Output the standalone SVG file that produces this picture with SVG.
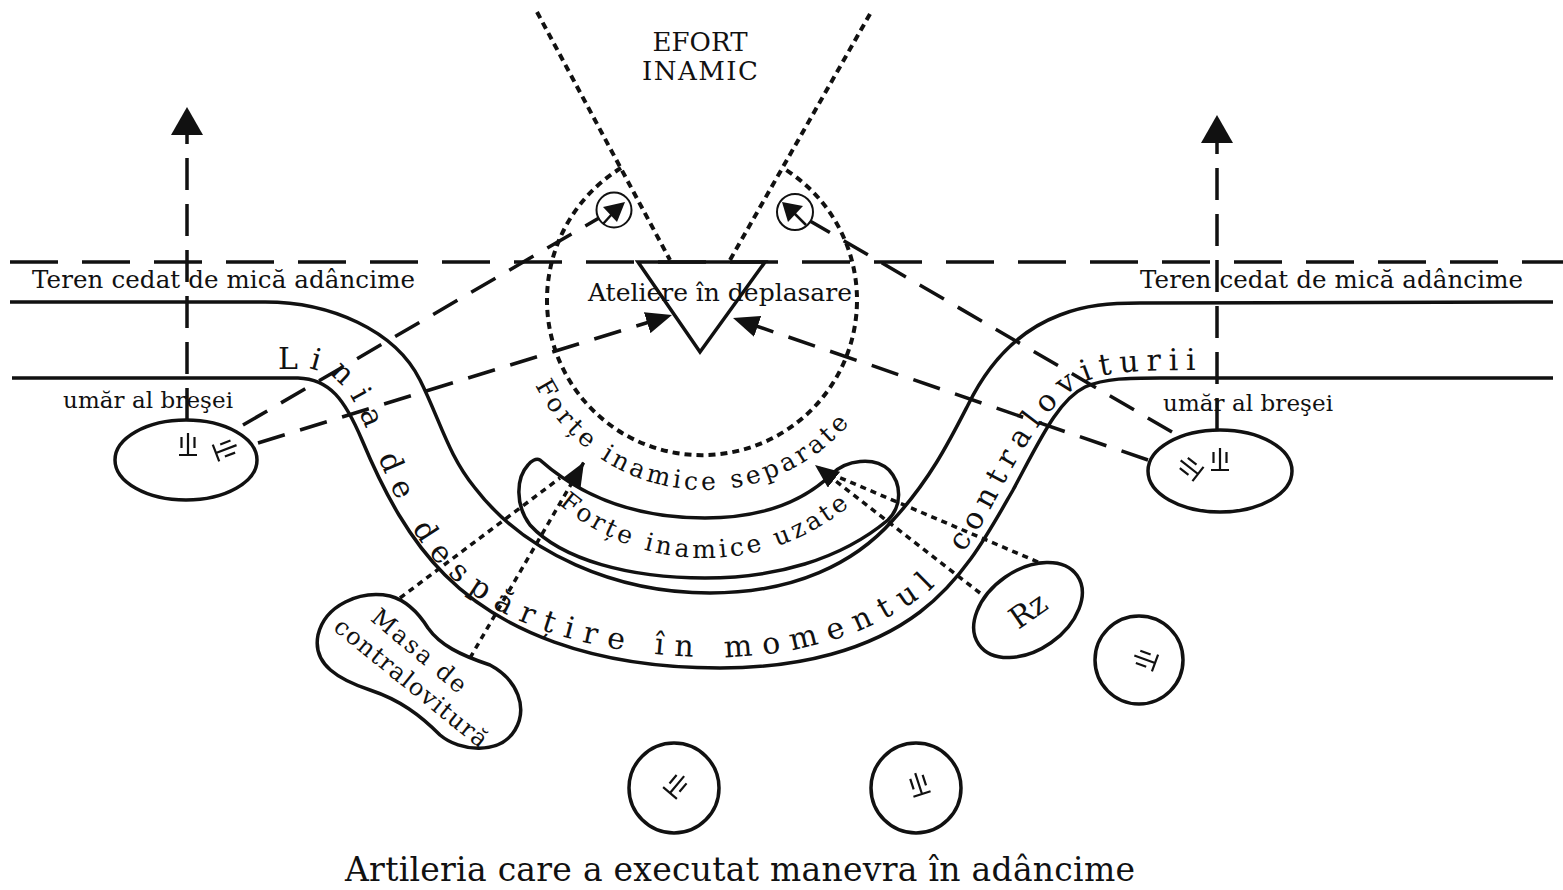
<svg xmlns="http://www.w3.org/2000/svg" xmlns:xlink="http://www.w3.org/1999/xlink" width="1563" height="890" viewBox="0 0 1563 890">
<style>
.s{fill:none;stroke:#111;stroke-width:3.5;stroke-linecap:butt}
.hd{stroke-dasharray:48 24}
.vd{stroke-dasharray:32 14}
.ld{stroke-dasharray:28 16}
.dt{stroke-dasharray:7 5;stroke-width:4}
.sd{stroke-dasharray:6 5;stroke-width:3.5}
.t{font-family:"DejaVu Serif","Liberation Serif",serif;fill:#111}
.sym{fill:none;stroke:#111;stroke-width:2.2}
</style>
<defs>
<marker id="ah" viewBox="0 0 26 22" refX="26" refY="11" markerUnits="userSpaceOnUse" markerWidth="26" markerHeight="22" orient="auto"><path d="M0,0 L26,11 L0,22 z" fill="#111"/></marker>
<marker id="av" viewBox="0 0 28 32" refX="28" refY="16" markerUnits="userSpaceOnUse" markerWidth="28" markerHeight="32" orient="auto"><path d="M0,0 L28,16 L0,32 z" fill="#111"/></marker>
<marker id="as" viewBox="0 0 24 20" refX="24" refY="10" markerUnits="userSpaceOnUse" markerWidth="24" markerHeight="20" orient="auto"><path d="M0,0 L24,10 L0,20 z" fill="#111"/></marker>
<g id="art"><path class="sym" d="M-9,0 H9 M0,0 V-22 M-6.5,-7 V-18 M6.5,-7 V-18"/></g>
<path id="pLinia" d="M 270,369 L 305,369 C 330,369 347,386 359,412 C 377,452 395,505 424,547 C 472,612 562,652 700,657 C 800,660 880,630 930,590 C 965,558 985,520 1005,482 C 1030,435 1055,398 1085,382 C 1105,372 1130,370 1210,370"/>
<path id="pSep" d="M 526.5,365 A 190 190 0 0 0 869.5,395"/>
<path id="pUz" d="M 531.9,477.3 A 226 226 0 0 0 883.1,471.1"/>
</defs>
<rect x="0" y="0" width="1563" height="890" fill="#fff"/>

<g id="terrain">
<path class="s hd" d="M10,262 H1563"/>
<path id="band-inner" class="s" d="M10,302 L265,302 C330,302 395,330 420,380 C440,420 448,455 475,488 C525,553 615,593 710,593 C795,593 855,563 893,520 C930,480 950,440 968,405 C990,360 1020,330 1060,315 C1085,305 1110,303 1140,303 L1553,302"/>
<path id="band-outer" class="s" d="M12,378 L298,378 C330,379 345,400 362,440 C385,495 410,540 445,575 C500,630 590,668 720,668 C800,668 870,650 920,612 C965,578 990,530 1013,490 C1040,440 1058,400 1085,387 C1105,378 1130,378 1160,378 L1553,378"/>
</g>

<g id="connectors">
<path class="s dt" d="M537,12 L670,260"/>
<path class="s dt" d="M870,14 L730,260"/>
<path class="s dt" d="M621,168 A155 155 0 1 0 783,168"/>
<path class="s ld" d="M243,425 L599,218"/>
<path class="s ld" d="M1172,432 L810,221"/>
<path class="s ld" d="M258,443 L672,315" marker-end="url(#ah)"/>
<path class="s ld" d="M1148,460 L733,318" marker-end="url(#ah)"/>
<path class="s vd" d="M187,420 L187,107" marker-end="url(#av)"/>
<path class="s vd" d="M1217,430 L1217,115" marker-end="url(#av)"/>
<path class="s sd" d="M400,598 L560,478"/>
<path class="s sd" d="M470,658 L584,462" marker-end="url(#as)"/>
<path class="s sd" d="M1038,562 L836,476"/>
<path class="s sd" d="M980,593 L815,465" marker-end="url(#as)"/>
</g>

<g id="efort">
<text class="t" x="700" y="51" font-size="26" text-anchor="middle" textLength="95">EFORT</text>
<text class="t" x="700" y="80" font-size="26" text-anchor="middle" textLength="116">INAMIC</text>
</g>

<g id="ateliere">
<polygon class="s" points="638,262 765,262 700,352" stroke-width="3"/>
<text class="t" x="588" y="301" font-size="25" textLength="264">Ateliere în deplasare</text>
</g>

<g id="arrow-circle-left">
<circle cx="614" cy="210" r="17.5" fill="none" stroke="#111" stroke-width="2"/>
<path d="M625,202 L603,207 L617,222 Z" fill="#111"/>
<path d="M603,224 L612,214" stroke="#111" stroke-width="2.5"/>
</g>
<g id="arrow-circle-right">
<circle cx="795" cy="212" r="18" fill="none" stroke="#111" stroke-width="2"/>
<path d="M782,202 L803,206 L788,222 Z" fill="#111"/>
<path d="M794,213 L806,225" stroke="#111" stroke-width="2.5"/>
</g>

<g id="labels-terrain">
<text class="t" x="32" y="288" font-size="24.5" textLength="383">Teren cedat de mică adâncime</text>
<text class="t" x="1140" y="288" font-size="24.5" textLength="383">Teren cedat de mică adâncime</text>
<text class="t" x="63" y="408" font-size="23" textLength="170">umăr al breşei</text>
<text class="t" x="1163" y="411" font-size="23" textLength="170">umăr al breşei</text>
</g>

<g id="linia">
<text class="t" font-size="30"><textPath href="#pLinia" startOffset="8"><tspan letter-spacing="10.6">Linia de despărțire în momentul </tspan><tspan letter-spacing="7.6" dx="12">contraloviturii</tspan></textPath></text>
</g>

<g id="separate">
<text class="t" font-size="25" letter-spacing="3.8"><textPath href="#pSep" startOffset="22">Forțe inamice separate</textPath></text>
</g>

<g id="uzate">
<path class="s" d="M540,460 C585,500 640,518 705,518 C765,518 805,500 832,474 C846,460 874,456 889,470 C902,484 902,506 888,520 C840,560 775,578 705,578 C630,578 562,560 530,525 C515,505 516,478 528,465 C531,461 536,458 540,460 Z"/>
<text class="t" font-size="25" letter-spacing="3.5"><textPath href="#pUz" startOffset="38">Forțe inamice uzate</textPath></text>
</g>

<g id="breach-left">
<ellipse class="s" cx="186" cy="460" rx="71" ry="40"/>
<use href="#art" transform="translate(188,455)"/>
<use href="#art" transform="translate(216,453) rotate(69)"/>
</g>

<g id="breach-right">
<ellipse class="s" cx="1220" cy="471" rx="72" ry="41"/>
<use href="#art" transform="translate(1220,470)"/>
<use href="#art" transform="translate(1198,474) rotate(-52)"/>
</g>

<g id="masa">
<path class="s" d="M390,596 C360,590 325,605 318,635 C312,665 340,680 370,690 C400,700 420,715 440,735 C460,752 500,755 515,730 C528,708 518,680 490,665 C460,655 440,645 428,628 C418,612 405,600 390,596 Z"/>
<text class="t" transform="translate(414,657) rotate(40)" text-anchor="middle" font-size="24" textLength="116">Masa de</text>
<text class="t" transform="translate(406,689) rotate(39)" text-anchor="middle" font-size="24" textLength="190">contralovitură</text>
</g>

<g id="rz">
<ellipse class="s" cx="0" cy="0" rx="60" ry="40" transform="translate(1028,610) rotate(-35)"/>
<text class="t" transform="translate(1034,619) rotate(-35)" text-anchor="middle" font-size="30">Rz</text>
</g>

<g id="art-1">
<circle class="s" cx="1139" cy="660" r="44"/>
<use href="#art" transform="translate(1155,663) rotate(-70)"/>
</g>
<g id="art-2">
<circle class="s" cx="674" cy="788" r="45"/>
<use href="#art" transform="translate(670,793) rotate(40)"/>
</g>
<g id="art-3">
<circle class="s" cx="916" cy="788" r="45"/>
<use href="#art" transform="translate(922,794) rotate(-18)"/>
</g>

<g id="caption">
<text class="t" x="345" y="881" font-size="33" textLength="790">Artileria care a executat manevra în adâncime</text>
</g>
</svg>
